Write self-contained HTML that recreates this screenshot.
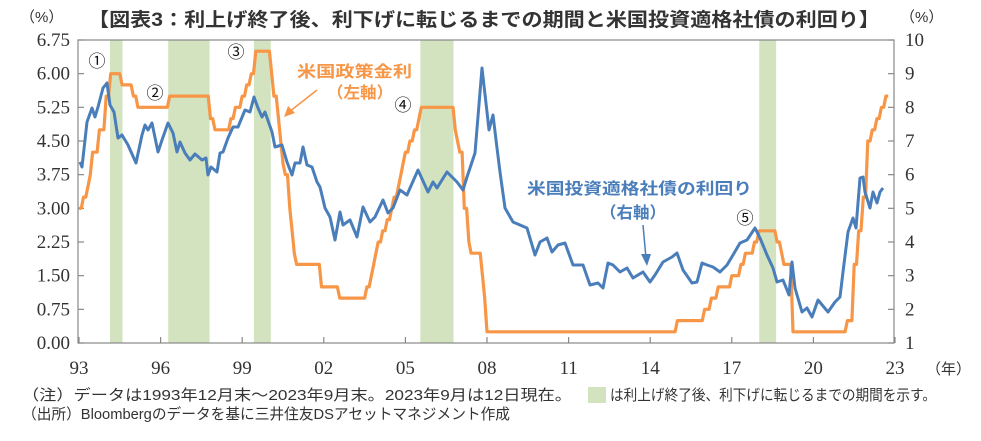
<!DOCTYPE html>
<html><head><meta charset="utf-8">
<style>
html,body{margin:0;padding:0;background:#fff;}
body{width:981px;height:436px;overflow:hidden;font-family:"Liberation Sans","Noto Sans CJK JP",sans-serif;}
</style></head>
<body>
<svg id="c" width="981" height="436" viewBox="0 0 981 436" xmlns="http://www.w3.org/2000/svg">
<g id="shade" fill="#d3e3bf"></g>
<rect x="78" y="40" width="816" height="303" fill="none" stroke="#888" stroke-width="1.2"/>
<g id="ticks" stroke="#888" stroke-width="1.2"></g>
<path id="orange" fill="none" stroke="#f79646" stroke-width="3.2" stroke-linejoin="round"/>
<polyline id="blue" fill="none" stroke="#4a7ebb" stroke-width="3" stroke-linejoin="round" points="80,162 82,167 87,122 92,108 95,117 98,107 103,88 107,83 110,105 114,112 118,138 122,135 128,145 136,163 142,135 145,125 148,130 152,123 158,152 162,140 168,123 173,133 177,152 180,142 185,153 190,160 195,154 202,160 206,158 208,175 211,167 217,172 220,153 223,152 228,138 233,127 238,127 245,110 250,112 254,97 258,108 262,117 265,112 272,132 275,147 282,145 287,162 292,175 295,163 300,163 303,147 307,165 312,167 317,182 320,187 325,208 330,217 335,240 340,212 343,225 350,220 357,237 363,207 370,222 375,217 383,200 388,213 393,208 400,190 407,195 410,188 418,170 428,192 433,182 437,188 447,172 457,182 463,190 467,177 475,153 482,68 487,112 489,130 493,115 497,148 500,172 505,208 513,222 520,225 527,228 535,255 540,242 547,238 552,252 558,245 565,243 573,265 583,265 590,285 598,283 603,288 608,263 613,265 620,272 627,268 633,278 643,272 650,282 655,275 663,262 672,257 677,253 683,270 692,283 697,282 702,263 707,265 713,267 720,272 727,265 733,255 740,243 747,240 755,228 760,238 767,255 773,268 777,282 783,280 789,295 792,262 795,288 802,312 807,308 812,317 818,300 828,312 835,302 840,297 843,272 848,232 853,218 856,228 860,178 863,177 865,192 870,208 873,192 877,203 880,192 883,188"/>
<g font-family="Liberation Serif, serif" font-size="19" fill="#333" id="labels"></g>
<text x="88" y="26" textLength="792" lengthAdjust="spacingAndGlyphs" font-size="19" font-weight="bold" fill="#333">【図表3：利上げ終了後、利下げに転じるまでの期間と米国投資適格社債の利回り】</text>
<text x="20" y="22" font-size="15" fill="#333">（%）</text>
<text x="900" y="22" font-size="15" fill="#333">（%）</text>
<text x="926" y="374" font-size="15" fill="#333">（年）</text>
<g font-size="17" fill="#111">
<text x="97" y="67" text-anchor="middle">①</text>
<text x="155" y="99" text-anchor="middle">②</text>
<text x="236" y="58" text-anchor="middle">③</text>
<text x="403" y="111" text-anchor="middle">④</text>
<text x="745" y="224" text-anchor="middle">⑤</text>
</g>
<g fill="#f79646" font-weight="bold" font-size="16">
<text x="297" y="77" textLength="115" lengthAdjust="spacingAndGlyphs">米国政策金利</text>
<text x="327" y="98" textLength="66" lengthAdjust="spacingAndGlyphs">（左軸）</text>
</g>
<line x1="317" y1="90" x2="289" y2="112" stroke="#f79646" stroke-width="1.5"/>
<polygon points="284,117 288,106 295,113" fill="#f79646"/>
<g fill="#4a7ebb" font-weight="bold" font-size="16">
<text x="527" y="194" textLength="225" lengthAdjust="spacingAndGlyphs">米国投資適格社債の利回り</text>
<text x="600" y="218" textLength="66" lengthAdjust="spacingAndGlyphs">（右軸）</text>
</g>
<line x1="643" y1="225" x2="646" y2="258" stroke="#4a7ebb" stroke-width="1.5"/>
<polygon points="647,266 641,254 651,254" fill="#4a7ebb"/>
<g font-size="15" fill="#333">
<text x="22" y="400" textLength="550" lengthAdjust="spacingAndGlyphs">（注）データは1993年12月末～2023年9月末。2023年9月は12日現在。</text>
<rect x="588" y="387" width="18" height="16" fill="#d3e3bf"/>
<text x="610" y="400" textLength="326" lengthAdjust="spacingAndGlyphs">は利上げ終了後、利下げに転じるまでの期間を示す。</text>
<text x="22" y="419" textLength="488" lengthAdjust="spacingAndGlyphs">（出所）Bloombergのデータを基に三井住友DSアセットマネジメント作成</text>
</g>
</svg>
<script>
var NS="http://www.w3.org/2000/svg";
function X(t){return 79+27.2*(t-1993.95);}
function YL(v){return 343-v*303/6.75;}
function YR(r){return 343-(r-1)*303/9;}
function el(p,n,a,txt){var e=document.createElementNS(NS,n);for(var k in a)e.setAttribute(k,a[k]);if(txt!==undefined)e.textContent=txt;document.getElementById(p).appendChild(e);return e;}
[[1995.09,1995.55],[1997.23,1998.75],[2000.38,2001.0],[2006.5,2007.72],[2018.96,2019.58]].forEach(function(b){el("shade","rect",{x:X(b[0]),y:40,width:X(b[1])-X(b[0]),height:303});});
var ch=[[1993.95,3.0],[1994.09,3.25],[1994.22,3.5],[1994.30,3.75],[1994.38,4.25],[1994.63,4.75],[1994.88,5.5],[1995.09,6.0],[1995.52,5.75],[1995.96,5.5],[1996.08,5.25],[1997.23,5.5],[1998.75,5.25],[1998.79,5.0],[1998.88,4.75],[1999.5,5.0],[1999.65,5.25],[1999.88,5.5],[2000.09,5.75],[2000.22,6.0],[2000.38,6.5],[2001.01,6.0],[2001.08,5.5],[2001.22,5.0],[2001.30,4.5],[2001.38,4.0],[2001.49,3.75],[2001.64,3.5],[2001.71,3.0],[2001.79,2.5],[2001.87,2.0],[2001.96,1.75],[2002.87,1.25],[2003.48,1.0],[2004.5,1.25],[2004.63,1.5],[2004.72,1.75],[2004.87,2.0],[2004.96,2.25],[2005.09,2.5],[2005.22,2.75],[2005.38,3.0],[2005.5,3.25],[2005.63,3.5],[2005.72,3.75],[2005.87,4.0],[2005.96,4.25],[2006.09,4.5],[2006.22,4.75],[2006.38,5.0],[2006.5,5.25],[2007.72,4.75],[2007.83,4.5],[2007.96,4.25],[2008.06,3.0],[2008.22,2.25],[2008.33,2.0],[2008.79,1.5],[2008.83,1.0],[2008.96,0.25],[2015.96,0.5],[2016.96,0.75],[2017.21,1.0],[2017.46,1.25],[2017.96,1.5],[2018.22,1.75],[2018.46,2.0],[2018.72,2.25],[2018.96,2.5],[2019.58,2.25],[2019.72,2.0],[2019.83,1.75],[2020.21,0.25],[2022.21,0.5],[2022.38,1.0],[2022.46,1.75],[2022.57,2.5],[2022.72,3.25],[2022.88,4.0],[2022.96,4.5],[2023.09,4.75],[2023.22,5.0],[2023.38,5.25],[2023.57,5.5]];
var d="";for(var i=0;i<=357;i++){var t=1993.95+i/12;var v=3;for(var j=0;j<ch.length;j++){if(ch[j][0]<=t+0.01)v=ch[j][1];}d+=(i?"L":"M")+X(t).toFixed(1)+","+YL(v).toFixed(1);}
document.getElementById("orange").setAttribute("d",d);
for(var k=0;k<=9;k++){var v=k*0.75,y=YL(v);el("labels","text",{x:70,y:y+6,"text-anchor":"end"},v.toFixed(2));el("ticks","line",{x1:78,y1:y,x2:84,y2:y});}
for(var r=1;r<=10;r++){var y=YR(r);el("labels","text",{x:905,y:y+6},String(r));el("ticks","line",{x1:888,y1:y,x2:894,y2:y});}
["93","96","99","02","05","08","11","14","17","20","23"].forEach(function(s,i){var x=X(1993.95+3*i);el("labels","text",{x:x,y:374,"text-anchor":"middle"},s);el("ticks","line",{x1:x,y1:337,x2:x,y2:343});});
</script>
</body></html>
